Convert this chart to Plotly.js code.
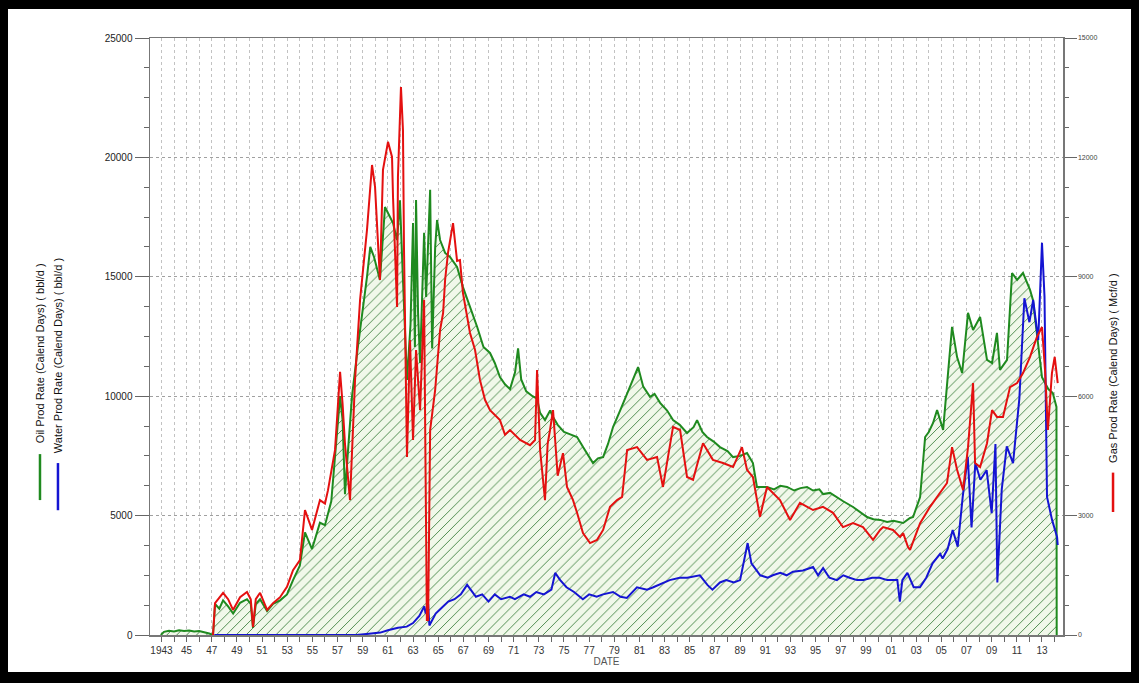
<!DOCTYPE html>
<html>
<head>
<meta charset="utf-8">
<script src="https://cdn.plot.ly/plotly-3.0.1.min.js"></script>
<style>
  html, body { margin:0; padding:0; background:#000; width:1139px; height:683px; overflow:hidden; }
  #frame { position:absolute; left:8px; top:9px; width:1123px; height:663px; background:#fff; }
  #chart { width:1123px; height:663px; }
</style>
</head>
<body>
<div id="frame"><div id="chart"></div></div>
<script>
// ---- Data (years as decimal dates) ----
var oilYears = [1942.95,1943.2,1943.6,1944.0,1944.4,1944.8,1945.2,1945.6,1946.0,1946.4,1946.8,1947.1,1947.26,1947.6,1947.9,1948.3,1948.7,1949.25,1949.8,1950.1,1950.28,1950.5,1950.84,1951.4,1951.87,1952.43,1952.98,1953.46,1954.0,1954.41,1954.97,1955.6,1956.0,1956.5,1956.9,1957.2,1957.4,1957.59,1957.8,1958.15,1958.6,1959.0,1959.34,1959.6,1959.9,1960.37,1960.77,1961.01,1961.41,1961.73,1961.96,1962.2,1962.52,1962.8,1963.0,1963.15,1963.24,1963.4,1963.56,1963.88,1964.04,1964.36,1964.52,1964.76,1964.91,1965.15,1965.55,1965.94,1966.5,1966.97,1967.53,1968.1,1968.6,1969.12,1969.5,1969.91,1970.31,1970.71,1971.11,1971.35,1971.6,1972.0,1972.5,1972.86,1973.1,1973.49,1973.9,1974.13,1974.5,1975.0,1975.5,1976.04,1976.6,1977.31,1977.7,1978.11,1978.5,1978.9,1979.46,1980.02,1980.5,1980.89,1981.3,1981.84,1982.2,1982.64,1983.2,1983.67,1984.2,1984.78,1985.3,1985.58,1986.0,1986.37,1986.9,1987.4,1988.0,1988.44,1989.0,1989.55,1990.02,1990.34,1991.14,1991.7,1992.2,1992.73,1993.3,1993.8,1994.32,1994.8,1995.3,1995.6,1996.15,1996.7,1997.2,1997.98,1998.5,1999.09,1999.6,2000.13,2000.69,2001.2,2001.96,2002.51,2002.75,2003.31,2003.71,2004.0,2004.34,2004.66,2005.14,2005.53,2005.85,2006.25,2006.65,2007.12,2007.52,2008.08,2008.63,2009.03,2009.42,2009.66,2010.22,2010.62,2011.02,2011.49,2012.05,2012.28,2012.6,2013.0,2013.5,2013.86,2014.15,2014.17];
var oilRate = [0,130,180,150,200,170,190,150,170,120,60,0,1300,1100,1450,1200,900,1350,1500,1300,300,1300,1500,1000,1300,1450,1700,2300,2900,4300,3600,4700,4600,5600,8000,10000,9000,5900,7500,10000,12000,13500,15000,16250,15830,14870,17920,17670,17250,16540,18200,14870,10680,13000,17250,12060,18220,13490,11390,16840,14160,18640,12000,16250,17380,16540,16000,15830,15410,14570,13740,12900,12060,11810,11390,10800,10500,10300,11000,12000,10700,10200,10000,9900,9300,9000,9400,9130,8800,8500,8400,8290,7800,7200,7400,7450,8000,8710,9400,10130,10700,11220,10400,9970,10100,9720,9400,9000,8800,8460,8700,9000,8500,8290,8100,7870,7700,7450,7500,7620,7200,6200,6200,6100,6250,6200,6050,6150,6200,6050,6100,5900,5950,5750,5600,5360,5150,4940,4850,4820,4730,4780,4690,4900,4940,5780,8290,8500,8880,9420,8590,11100,12900,11640,10970,13490,12770,13320,11520,11390,12650,11100,11520,15160,14870,15160,14450,14030,12500,10800,10300,10130,9550,0];

var gasYears = [1947.1,1947.26,1947.9,1948.3,1948.69,1949.25,1949.8,1950.1,1950.28,1950.5,1950.84,1951.4,1951.87,1952.43,1952.98,1953.46,1954.01,1954.41,1954.97,1955.6,1956.0,1956.24,1956.8,1957.2,1957.4,1957.59,1957.99,1958.39,1958.79,1959.34,1959.74,1959.98,1960.37,1960.61,1961.01,1961.33,1961.41,1961.73,1961.8,1962.04,1962.2,1962.28,1962.52,1962.76,1963.0,1963.24,1963.56,1963.88,1964.0,1964.1,1964.2,1964.36,1964.76,1965.15,1965.39,1965.55,1965.78,1966.18,1966.5,1966.73,1966.97,1967.53,1967.93,1968.32,1968.72,1969.12,1969.91,1970.31,1970.71,1971.51,1972.3,1972.7,1972.86,1973.1,1973.49,1973.7,1973.89,1974.13,1974.5,1974.92,1975.24,1975.72,1976.04,1976.51,1977.07,1977.63,1978.11,1978.66,1979.22,1979.62,1980.02,1980.81,1981.6,1982.4,1982.87,1983.67,1984.23,1984.78,1985.26,1986.05,1986.84,1987.64,1988.44,1989.15,1989.55,1990.02,1990.58,1991.14,1992.17,1992.97,1993.76,1994.8,1995.59,1996.39,1997.18,1997.98,1998.77,1999.57,2000.13,2000.37,2001.16,2001.72,2001.96,2002.35,2002.51,2003.31,2004.1,2004.9,2005.45,2005.85,2006.25,2006.73,2007.12,2007.52,2007.68,2008.08,2008.63,2009.03,2009.42,2009.9,2010.46,2011.02,2011.49,2012.05,2012.6,2013.0,2013.24,2013.47,2013.79,2014.01,2014.25];
var gasRate = [0,800,1060,900,630,950,1080,900,200,900,1060,630,800,950,1210,1630,1880,3140,2640,3390,3300,3640,4650,6610,5800,4800,3390,6410,8420,10180,11810,11260,8920,11690,12390,12010,11000,8240,11500,13770,12690,9750,4470,7410,4900,7160,5650,8420,4000,380,380,5150,6160,7660,8090,8920,9600,10350,9400,9420,8590,7590,7160,6410,5910,5650,5400,5030,5150,4900,4770,4900,6660,4650,3390,4800,5150,5650,4000,4570,3720,3390,3070,2560,2310,2390,2640,3220,3390,3470,4650,4720,4400,4470,3720,5230,5150,3970,3900,4820,4400,4320,4220,4720,4150,3970,2970,3720,3390,2890,3320,3140,3220,3070,2710,2810,2710,2390,2640,2710,2640,2460,2560,2210,2140,2810,3220,3570,3820,4720,4150,3640,4720,6330,4320,4220,4820,5650,5480,5480,6230,6330,6580,6990,7490,7740,6660,5150,6580,6990,6330];

var waterYears = [1947.2,1958.5,1959.5,1960.4,1961.0,1961.8,1962.5,1963.0,1963.5,1963.9,1964.0,1964.2,1964.3,1964.8,1965.2,1965.8,1966.3,1966.8,1967.3,1967.6,1968.0,1968.5,1969.0,1969.5,1970.0,1970.7,1971.1,1971.8,1972.3,1972.8,1973.4,1974.0,1974.3,1974.7,1975.2,1975.8,1976.5,1977.0,1977.6,1978.1,1978.9,1979.5,1980.0,1980.8,1981.6,1982.1,1983.4,1984.2,1984.8,1985.8,1986.4,1986.8,1987.4,1987.9,1988.5,1989.0,1989.6,1989.9,1990.6,1991.2,1991.6,1992.2,1992.7,1993.2,1994.0,1994.8,1995.2,1995.6,1996.1,1996.7,1997.2,1997.7,1998.3,1998.8,1999.5,2000.1,2000.7,2001.5,2001.7,2001.9,2002.3,2002.8,2003.3,2003.8,2004.3,2004.9,2005.1,2005.5,2005.9,2006.3,2006.7,2007.1,2007.4,2007.7,2008.1,2008.6,2009.0,2009.3,2009.45,2009.8,2010.2,2010.7,2011.2,2011.6,2012.0,2012.3,2012.7,2013.0,2013.2,2013.4,2013.8,2014.2,2014.25];
var waterRate = [0,0,50,100,200,300,350,500,800,1200,900,1300,400,900,1100,1400,1500,1700,2100,1900,1600,1700,1400,1700,1500,1600,1500,1700,1600,1800,1700,1900,2600,2300,2000,1800,1500,1700,1600,1700,1800,1600,1550,2000,1900,2000,2300,2400,2400,2500,2100,1900,2200,2300,2200,2300,3850,3000,2500,2400,2500,2600,2500,2650,2700,2850,2500,2800,2400,2300,2500,2400,2300,2300,2400,2400,2300,2300,1400,2300,2600,2000,2000,2400,3000,3400,3200,3600,4400,3700,5800,7450,4500,7200,6500,6900,5100,8000,2200,6100,7900,7200,9900,14100,13100,14030,12350,16420,14160,5780,4820,4100,3770];

var tickYears = [1943,1944,1945,1946,1947,1948,1949,1950,1951,1952,1953,1954,1955,1956,1957,1958,1959,1960,1961,1962,1963,1964,1965,1966,1967,1968,1969,1970,1971,1972,1973,1974,1975,1976,1977,1978,1979,1980,1981,1982,1983,1984,1985,1986,1987,1988,1989,1990,1991,1992,1993,1994,1995,1996,1997,1998,1999,2000,2001,2002,2003,2004,2005,2006,2007,2008,2009,2010,2011,2012,2013,2014];
var tickLabels = ["1943","","45","","47","","49","","51","","53","","55","","57","","59","","61","","63","","65","","67","","69","","71","","73","","75","","77","","79","","81","","83","","85","","87","","89","","91","","93","","95","","97","","99","","01","","03","","05","","07","","09","","11","","13",""];

var oilName = "Oil Prod Rate (Calend Days) ( bbl/d )";
var waterName = "Water Prod Rate (Calend Days) ( bbl/d )";
var gasName = "Gas Prod Rate (Calend Days) ( Mcf/d )";

var FONT = "Arial, 'Liberation Sans', sans-serif";
var OIL_C = "#1f8a1f", WAT_C = "#1414d2", GAS_C = "#e41010";

var traces = [
  { x: oilYears, y: oilRate, type: "scatter", mode: "lines", name: oilName,
    line: { color: OIL_C, width: 2 }, fill: "tozeroy",
    fillcolor: "rgba(0,0,0,0)",
    fillpattern: { shape: "/", fgcolor: "#4f8c4f", bgcolor: "#f1f8ea", size: 7, solidity: 0.14 } },
  { x: gasYears, y: gasRate, type: "scatter", mode: "lines", name: gasName, yaxis: "y2",
    line: { color: GAS_C, width: 2 } },
  { x: waterYears, y: waterRate, type: "scatter", mode: "lines", name: waterName,
    line: { color: WAT_C, width: 2 } }
];

var layout = {
  width: 1123, height: 663,
  margin: { l: 142, r: 68, t: 29, b: 37 },
  paper_bgcolor: "#ffffff", plot_bgcolor: "#ffffff",
  showlegend: false,
  font: { family: FONT, color: "#333" },
  xaxis: {
    range: [1942.09, 2014.67], tickmode: "array", tickvals: tickYears, ticktext: tickLabels,
    ticks: "outside", ticklen: 5, tickcolor: "#666", tickwidth: 1,
    showline: true, linecolor: "#777", linewidth: 1.5, mirror: true,
    showgrid: true, gridcolor: "#c2c2c2", griddash: "dot", gridwidth: 1,
    zeroline: false, tickangle: 0,
    tickfont: { size: 10, color: "#333" },
    title: { text: "DATE", font: { size: 10, color: "#555" }, standoff: 2 }
  },
  yaxis: {
    range: [0, 25000], dtick: 5000, tickformat: "d",
    ticks: "outside", ticklen: 14, tickcolor: "#666",
    minor: { dtick: 1250, ticks: "outside", ticklen: 5, tickcolor: "#666", showgrid: false },
    showline: true, linecolor: "#777", linewidth: 1.5,
    showgrid: true, gridcolor: "#a0a0a0", griddash: "dot",
    zeroline: false, tickfont: { size: 10, color: "#222" }
  },
  yaxis2: {
    overlaying: "y", side: "right", range: [0, 15000], dtick: 3000, tickformat: "d",
    ticks: "outside", ticklen: 12, tickcolor: "#666",
    minor: { dtick: 750, ticks: "outside", ticklen: 4, tickcolor: "#666", showgrid: false },
    showline: true, linecolor: "#777", linewidth: 1.5,
    showgrid: false, zeroline: false, tickfont: { size: 7, color: "#444" }
  },
  annotations: [
    { xref: "paper", yref: "paper", x: -0.1205, y: 0.318, xanchor: "center", yanchor: "bottom",
      text: oilName, textangle: -90, showarrow: false, font: { size: 11, color: "#111" } },
    { xref: "paper", yref: "paper", x: -0.1008, y: 0.302, xanchor: "center", yanchor: "bottom",
      text: waterName, textangle: -90, showarrow: false, font: { size: 11, color: "#111" } },
    { xref: "paper", yref: "paper", x: 1.0548, y: 0.285, xanchor: "center", yanchor: "bottom",
      text: gasName, textangle: -90, showarrow: false, font: { size: 11, color: "#111" } }
  ],
  shapes: [
    { type: "line", xref: "paper", yref: "paper", x0: -0.1205, x1: -0.1205, y0: 0.303, y1: 0.226, line: { color: OIL_C, width: 2.5 } },
    { type: "line", xref: "paper", yref: "paper", x0: -0.1008, x1: -0.1008, y0: 0.288, y1: 0.209, line: { color: WAT_C, width: 2.5 } },
    { type: "line", xref: "paper", yref: "paper", x0: 1.0548, x1: 1.0548, y0: 0.272, y1: 0.206, line: { color: GAS_C, width: 2.5 } }
  ]
};

Plotly.newPlot("chart", traces, layout, { staticPlot: true, displayModeBar: false });
</script>
</body>
</html>
